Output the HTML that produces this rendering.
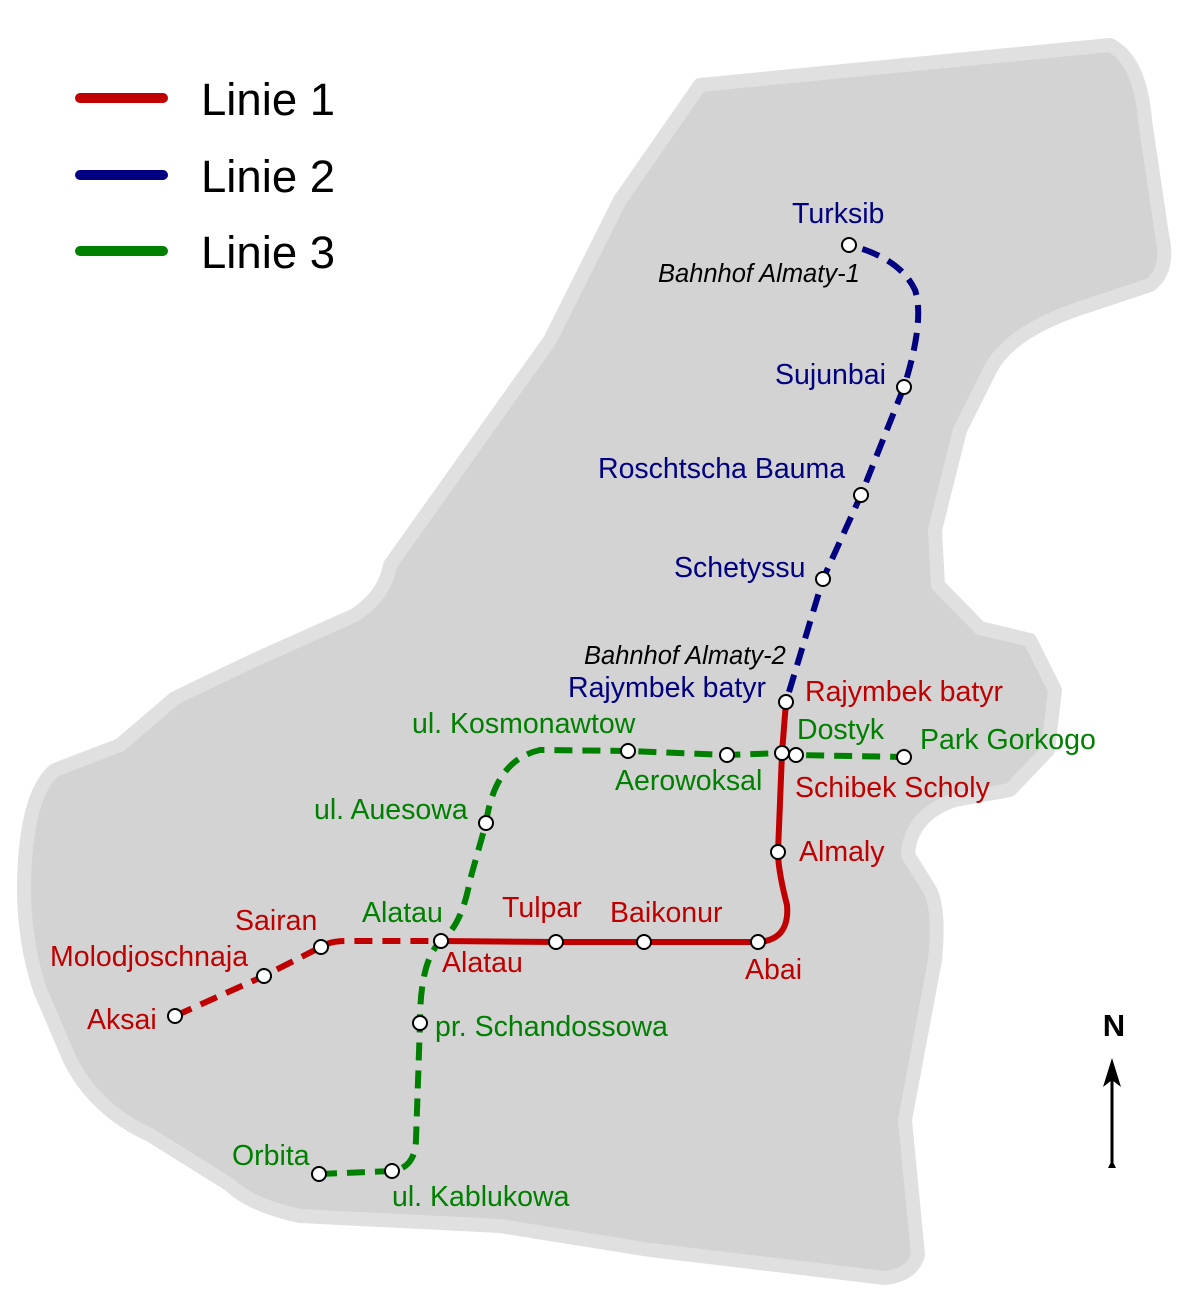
<!DOCTYPE html>
<html><head><meta charset="utf-8"><style>
html,body{margin:0;padding:0;background:#fff}
svg{display:block}
text{font-family:"Liberation Sans",sans-serif}
</style></head><body>
<svg width="1200" height="1291" viewBox="0 0 1200 1291" xmlns="http://www.w3.org/2000/svg">
<path d="M700,85 L1110,45 Q1140,60 1145,120 L1162,235 Q1170,270 1150,285 L1090,305 Q1010,330 990,370 L960,430 L935,530 L938,585 L980,628 L1030,640 L1055,690 L1048,750 L1010,790 L955,800 Q910,815 908,855 L930,890 Q940,910 935,960 L905,1120 L918,1255 Q912,1275 885,1278 L650,1250 L500,1226 L300,1216 Q250,1205 230,1185 L150,1135 Q95,1110 70,1060 L40,990 Q20,930 25,860 Q30,790 55,770 L120,745 L175,698 L250,662 L355,615 Q385,595 390,565 L550,340 L620,200 Z" fill="#d3d3d3" stroke="#e0e0e0" stroke-width="14" stroke-linejoin="round"/>

<g stroke-width="10" stroke-linecap="round">
<line x1="80" y1="98" x2="163" y2="98" stroke="#c00000"/>
<line x1="80" y1="175" x2="163" y2="175" stroke="#000080"/>
<line x1="80" y1="251" x2="163" y2="251" stroke="#008000"/>
</g>
<g font-size="45.5" fill="#000">
<text x="201" y="115">Linie 1</text>
<text x="201" y="192">Linie 2</text>
<text x="201" y="268">Linie 3</text>
</g>

<g fill="none" stroke-width="6">
<path d="M175,1016 L264,976 L321,947 Q330,941 345,941 L441,941" stroke="#c00000" stroke-dasharray="18,10"/>
<path d="M441,941 L556,942 L644,942 L758,942 Q790,940 787,905 Q778,870 778,852 L782,753 L786,702" stroke="#c00000"/>
<path d="M789,692 L823,579 L861,495 L904,387 Q925,320 915,290 Q900,258 849,245" stroke="#000080" stroke-dasharray="18,10"/>
<path d="M319,1174 L392,1171 Q415,1168 416,1140 L420,1023 Q420,960 441,941 Q462,925 470,880 L486,823 Q495,760 540,750 L628,751 L727,755 L782,753 L796,755 L904,757" stroke="#008000" stroke-dasharray="18,10"/>
</g>

<g fill="#fff" stroke="#000" stroke-width="2">
<circle cx="175" cy="1016" r="7"/><circle cx="264" cy="976" r="7"/><circle cx="321" cy="947" r="7"/>
<circle cx="441" cy="941" r="7"/><circle cx="556" cy="942" r="7"/><circle cx="644" cy="942" r="7"/>
<circle cx="758" cy="942" r="7"/><circle cx="778" cy="852" r="7"/><circle cx="782" cy="753" r="7"/>
<circle cx="796" cy="755" r="7"/><circle cx="786" cy="702" r="7"/><circle cx="823" cy="579" r="7"/>
<circle cx="861" cy="495" r="7"/><circle cx="904" cy="387" r="7"/><circle cx="849" cy="245" r="7"/>
<circle cx="319" cy="1174" r="7"/><circle cx="392" cy="1171" r="7"/><circle cx="420" cy="1023" r="7"/>
<circle cx="486" cy="823" r="7"/><circle cx="628" cy="751" r="7"/><circle cx="727" cy="755" r="7"/>
<circle cx="904" cy="757" r="7"/>
</g>

<g font-size="28.5" fill="#c00000">
<text x="87" y="1029">Aksai</text>
<text x="50" y="966">Molodjoschnaja</text>
<text x="235" y="930">Sairan</text>
<text x="442" y="972">Alatau</text>
<text x="502" y="917">Tulpar</text>
<text x="610" y="922">Baikonur</text>
<text x="745" y="979">Abai</text>
<text x="799" y="861">Almaly</text>
<text x="795" y="797">Schibek Scholy</text>
<text x="805" y="701">Rajymbek batyr</text>
</g>
<g font-size="28.5" fill="#000080">
<text x="568" y="697">Rajymbek batyr</text>
<text x="674" y="577">Schetyssu</text>
<text x="598" y="478">Roschtscha Bauma</text>
<text x="775" y="384">Sujunbai</text>
<text x="792" y="223">Turksib</text>
</g>
<g font-size="25.5" font-style="italic" fill="#000">
<text x="658" y="282">Bahnhof Almaty-1</text>
<text x="584" y="664">Bahnhof Almaty-2</text>
</g>
<g font-size="28.5" fill="#008000">
<text x="232" y="1165">Orbita</text>
<text x="392" y="1206">ul. Kablukowa</text>
<text x="435" y="1036">pr. Schandossowa</text>
<text x="362" y="922">Alatau</text>
<text x="314" y="819">ul. Auesowa</text>
<text x="412" y="733">ul. Kosmonawtow</text>
<text x="615" y="790">Aerowoksal</text>
<text x="797" y="739">Dostyk</text>
<text x="920" y="749">Park Gorkogo</text>
</g>

<text x="1114" y="1036" font-size="31" font-weight="bold" fill="#000" text-anchor="middle">N</text>
<line x1="1112" y1="1165" x2="1112" y2="1080" stroke="#000" stroke-width="3"/>
<path d="M1112,1058 L1121,1087 L1112,1080 L1103,1087 Z" fill="#000"/>
<path d="M1112,1160 L1116,1168 L1108,1168 Z" fill="#000"/>
</svg>
</body></html>
